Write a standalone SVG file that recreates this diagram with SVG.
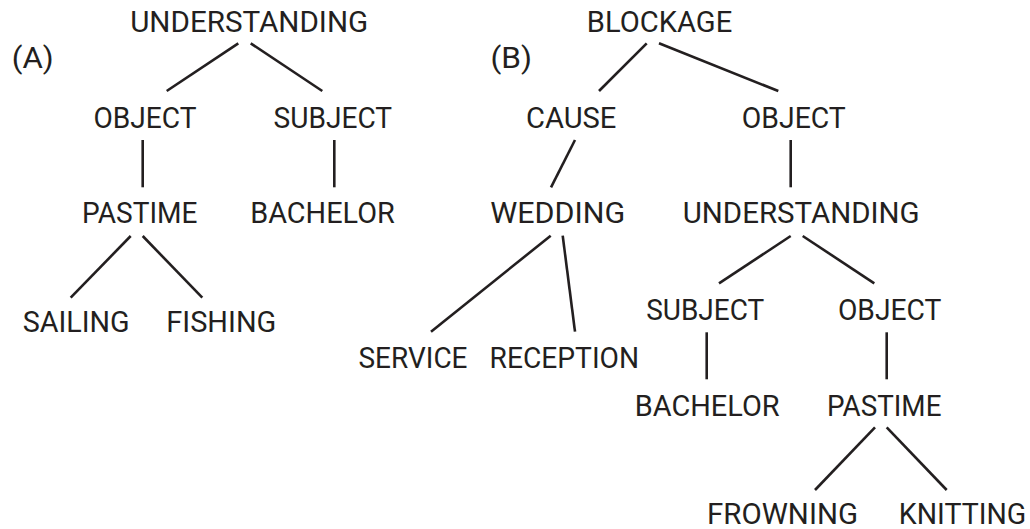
<svg xmlns="http://www.w3.org/2000/svg" width="1030" height="529" viewBox="0 0 1030 529">
  <style>
    text { font-family: Roboto, "Liberation Sans", sans-serif; font-size: 29px; fill: #231f20; text-anchor: middle; }
    .edge { stroke: #231f20; stroke-width: 2.6; fill: none; }
  </style>
  <rect width="1030" height="529" fill="#ffffff"/>

  <!-- Tree (A) -->
  <g id="labelA"><text x="32.7" y="68" textLength="42" lengthAdjust="spacingAndGlyphs">(A)</text></g>
  <g id="a-understanding"><text x="249.2" y="32.3" textLength="238" lengthAdjust="spacingAndGlyphs">UNDERSTANDING</text></g>
  <g id="a-object"><text x="145" y="128.3" textLength="103" lengthAdjust="spacingAndGlyphs">OBJECT</text></g>
  <g id="a-subject"><text x="332.8" y="128.3" textLength="118.5" lengthAdjust="spacingAndGlyphs">SUBJECT</text></g>
  <g id="a-pastime"><text x="139.7" y="223.3" textLength="115.5" lengthAdjust="spacingAndGlyphs">PASTIME</text></g>
  <g id="a-bachelor"><text x="322.5" y="223.3" textLength="144.5" lengthAdjust="spacingAndGlyphs">BACHELOR</text></g>
  <g id="a-sailing"><text x="76.2" y="331.7" textLength="107" lengthAdjust="spacingAndGlyphs">SAILING</text></g>
  <g id="a-fishing"><text x="221.3" y="331.7" textLength="110" lengthAdjust="spacingAndGlyphs">FISHING</text></g>

  <!-- Tree (B) -->
  <g id="labelB"><text x="511.3" y="68" textLength="41.5" lengthAdjust="spacingAndGlyphs">(B)</text></g>
  <g id="b-blockage"><text x="659.5" y="32.3" textLength="145.5" lengthAdjust="spacingAndGlyphs">BLOCKAGE</text></g>
  <g id="b-cause"><text x="571.2" y="128.3" textLength="90.5" lengthAdjust="spacingAndGlyphs">CAUSE</text></g>
  <g id="b-object"><text x="793.8" y="128.3" textLength="104" lengthAdjust="spacingAndGlyphs">OBJECT</text></g>
  <g id="b-wedding"><text x="557.8" y="223.3" textLength="135" lengthAdjust="spacingAndGlyphs">WEDDING</text></g>
  <g id="b-understanding"><text x="801.2" y="223.3" textLength="237" lengthAdjust="spacingAndGlyphs">UNDERSTANDING</text></g>
  <g id="b-service"><text x="413" y="367.7" textLength="109" lengthAdjust="spacingAndGlyphs">SERVICE</text></g>
  <g id="b-reception"><text x="564.3" y="367.7" textLength="149.5" lengthAdjust="spacingAndGlyphs">RECEPTION</text></g>
  <g id="b-subject"><text x="705.2" y="320" textLength="118" lengthAdjust="spacingAndGlyphs">SUBJECT</text></g>
  <g id="b-object2"><text x="889.7" y="320" textLength="103.5" lengthAdjust="spacingAndGlyphs">OBJECT</text></g>
  <g id="b-bachelor"><text x="707.2" y="416" textLength="145" lengthAdjust="spacingAndGlyphs">BACHELOR</text></g>
  <g id="b-pastime"><text x="884.2" y="416" textLength="114.5" lengthAdjust="spacingAndGlyphs">PASTIME</text></g>
  <g id="b-frowning"><text x="782.5" y="523.5" textLength="151" lengthAdjust="spacingAndGlyphs">FROWNING</text></g>
  <g id="b-knitting"><text x="962.5" y="523.5" textLength="127.5" lengthAdjust="spacingAndGlyphs">KNITTING</text></g>

  <!-- Connectors -->
  <g id="connectors" class="edge">
    <line x1="238.3" y1="43.3" x2="166.7" y2="91"/>
    <line x1="250.7" y1="43.3" x2="322.3" y2="91"/>
    <line x1="142.7" y1="140" x2="142.7" y2="187.3"/>
    <line x1="334.3" y1="140" x2="334.3" y2="187.3"/>
    <line x1="130.7" y1="236" x2="70.7" y2="297.7"/>
    <line x1="142.7" y1="236" x2="202.3" y2="297.7"/>

    <line x1="646.7" y1="43.3" x2="599" y2="91"/>
    <line x1="659" y1="43.3" x2="778.3" y2="91"/>
    <line x1="575" y1="140" x2="551" y2="187.3"/>
    <line x1="790.7" y1="140" x2="790.7" y2="187.3"/>
    <line x1="550.7" y1="235.7" x2="431" y2="331.7"/>
    <line x1="562.7" y1="235.7" x2="575" y2="331.7"/>
    <line x1="790.7" y1="236" x2="719" y2="283.3"/>
    <line x1="802.7" y1="236" x2="874.3" y2="283.3"/>
    <line x1="706.7" y1="332.3" x2="706.7" y2="379.3"/>
    <line x1="886.7" y1="332.3" x2="886.7" y2="379.3"/>
    <line x1="875" y1="427.3" x2="815" y2="490"/>
    <line x1="886.7" y1="427.3" x2="946.7" y2="490"/>
  </g>
</svg>
